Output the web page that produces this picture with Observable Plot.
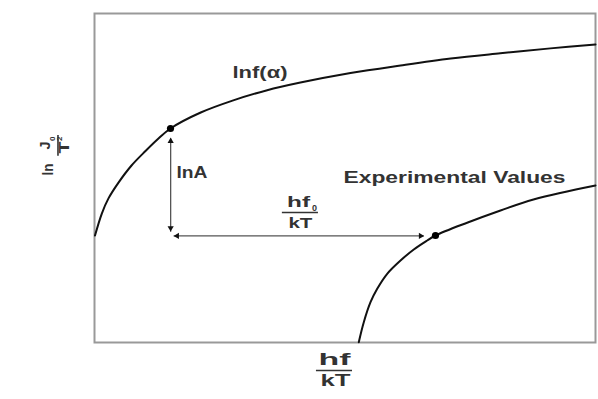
<!DOCTYPE html>
<html>
<head>
<meta charset="utf-8">
<script src="https://cdn.jsdelivr.net/npm/d3@7"></script>
<script src="https://cdn.jsdelivr.net/npm/@observablehq/plot@0.6"></script>
<style>
  html, body { margin: 0; padding: 0; background: #fff; }
  #chart { width: 598px; height: 399px; }
</style>
</head>
<body>
<div id="chart"></div>
<script>
// Theoretical curve lnf(α) (axis units 0..100)
const curveAX = [0.1, 1.46, 2.79, 4.79, 7.39, 10.18, 12.77, 15.17, 21.2, 27.7, 34.3, 41.1, 51.1, 61.1, 71.1, 81.0, 91.0, 100];
const curveAY = [32.5, 39.2, 43.8, 48.6, 53.8, 58.2, 62.0, 65.05, 69.9, 73.6, 76.6, 79.0, 81.9, 84.2, 86.3, 87.9, 89.4, 90.6];
// Experimental values curve
const curveBX = [52.75, 53.75, 55.09, 56.43, 58.42, 61.08, 63.73, 66.41, 68.06, 74.5, 81.04, 87.62, 100];
const curveBY = [0.1, 6.17, 12.25, 16.32, 20.88, 24.92, 28.27, 31.0, 32.52, 36.47, 40.12, 43.47, 47.72];
// Marked points
const dotX = [15.17, 68.06];
const dotY = [65.05, 32.52];
// Double arrows: vertical (lnA) and horizontal (hf0/kT)
const arrowX1 = [15.2, 15.8];
const arrowY1 = [62.0, 32.4];
const arrowX2 = [15.2, 65.7];
const arrowY2 = [33.7, 32.4];
const headX = [15.2, 15.2, 16.5, 65.1];
const headY = [61.2, 34.8, 32.4, 32.4];
const headRot = [0, 180, 270, 90];
// Text labels (horizontal)
const labelText = ["lnf(α)", "lnA", "Experimental Values", "hf", "0", "kT", "hf", "kT"];
const labelX = [33.03, 19.46, 71.86, 40.72, 43.91, 41.1, 47.9, 48.1];
const labelY = [82.07, 51.67, 50.15, 42.55, 40.7, 36.2, -5.17, -11.55];
const labelSize = [16, 17, 17, 15, 9, 15, 16, 16];
const labelWidth = [55, 31, 222, 23, 0, 24, 32, 30];
// Fraction bars (horizontal)
const barX1 = [37.5, 44.3];
const barX2 = [44.7, 51.5];
const barY = [39.5, -8.5];
// Y-axis label (rotated): "ln" + J0 / T2
const yLabText = ["ln", "J", "0", "T", "2"];
const yLabX = [-9.18, -9.78, -8.4, -5.99, -6.9];
const yLabY = [52.58, 59.88, 61.9, 59.27, 61.9];
const yLabSize = [15, 14, 8, 15, 8];
const yLabLen = [12, 8, 0, 12, 0];
const yBarX = [-7.29];
const yBarY1 = [62.9];
const yBarY2 = [56.6];

const curveA = curveAX.map((x, i) => ({x, y: curveAY[i]}));
const curveB = curveBX.map((x, i) => ({x, y: curveBY[i]}));
const dots = dotX.map((x, i) => ({x, y: dotY[i]}));
const arrows = arrowX1.map((x1, i) => ({x1, y1: arrowY1[i], x2: arrowX2[i], y2: arrowY2[i]}));
const heads = headX.map((x, i) => ({x, y: headY[i], r: headRot[i]}));
const labels = labelText.map((t, i) => ({t, x: labelX[i], y: labelY[i], s: labelSize[i], w: labelWidth[i], rot: 0}));
const bars = barX1.map((x1, i) => ({x1, x2: barX2[i], y: barY[i]}));
const yLabs = yLabText.map((t, i) => ({t, x: yLabX[i], y: yLabY[i], s: yLabSize[i], w: yLabLen[i], rot: -90}));
const yBars = yBarX.map((x, i) => ({x, y1: yBarY1[i], y2: yBarY2[i]}));
const allTexts = labels.concat(yLabs);

const font = "'Liberation Sans', Arial, sans-serif";
const ink = "#333";

const marks = [
  Plot.frame({stroke: "#999", strokeWidth: 2}),
  Plot.line(curveA, {x: "x", y: "y", curve: "catmull-rom", stroke: "#111", strokeWidth: 2}),
  Plot.line(curveB, {x: "x", y: "y", curve: "catmull-rom", stroke: "#111", strokeWidth: 2}),
  Plot.link(arrows, {x1: "x1", y1: "y1", x2: "x2", y2: "y2", stroke: "#555", strokeWidth: 1.3}),
  Plot.dot(heads, {x: "x", y: "y", rotate: "r", symbol: "triangle", r: 2.3, fill: "#111", stroke: "none"}),
  Plot.dot(dots, {x: "x", y: "y", r: 3.6, fill: "#000", stroke: "none"}),
  Plot.ruleY(bars, {x1: "x1", x2: "x2", y: "y", stroke: "#333", strokeWidth: 1.6}),
  Plot.ruleX(yBars, {x: "x", y1: "y1", y2: "y2", stroke: "#333", strokeWidth: 1.6})
];
allTexts.forEach(d => marks.push(Plot.text([d], {x: "x", y: "y", text: "t", fontSize: d.s, fontWeight: "bold", fill: ink, rotate: d.rot})));

const chart = Plot.plot({
  width: 598,
  height: 399,
  marginLeft: 94,
  marginRight: 3,
  marginTop: 13,
  marginBottom: 57,
  x: {domain: [0, 100], axis: null},
  y: {domain: [0, 100], axis: null},
  style: {background: "#fff", fontFamily: font, overflow: "visible"},
  marks
});

// Stretch texts to the widths seen in the reference (text marks are in allTexts order)
const textEls = chart.querySelectorAll("g[aria-label='text'] text");
textEls.forEach((el, i) => {
  const d = allTexts[i];
  if (d && d.w > 0) {
    el.setAttribute("textLength", d.w);
    el.setAttribute("lengthAdjust", "spacingAndGlyphs");
  }
});

document.getElementById("chart").appendChild(chart);
</script>
</body>
</html>
